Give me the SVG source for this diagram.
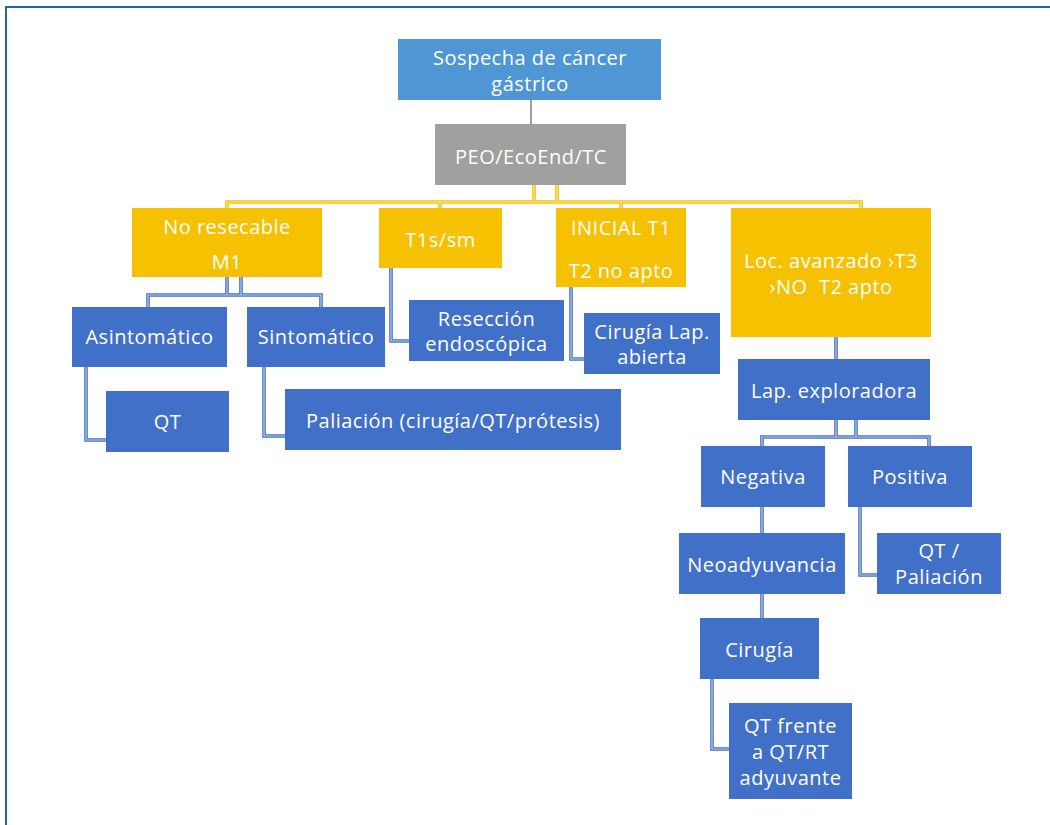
<svg xmlns="http://www.w3.org/2000/svg" width="1050" height="825" viewBox="0 0 1050 825">
<style>
.t{font-family:"Open Sans","Liberation Sans",sans-serif;font-size:20px;letter-spacing:0.5px;fill:#ffffff;text-anchor:middle}
.b{fill:#4170c8}
.y{fill:#f6c100}
.co{fill:none;stroke-linejoin:miter}
.bo{stroke:#4472c4;stroke-width:3.6}
.bi{stroke:#b9cbee;stroke-width:1.2}
.yo{stroke:#f5c000;stroke-width:3.6}
.yi{stroke:#fbe7a6;stroke-width:1.2}
</style>
<rect x="0" y="0" width="1050" height="825" fill="#ffffff"/>
<rect x="6" y="7" width="1060" height="840" fill="none" stroke="#2466ab" stroke-width="2"/>

<g id="connectors">
  <line x1="531" y1="100" x2="531" y2="124" stroke="#9e9e9e" stroke-width="2"/>
  <path class="co yo" d="M534 185V202M557 185V202M227 210V202H861V210M440 202V208M621 202V208"/>
  <path class="co yi" d="M534 185V202M557 185V202M227 210V202H861V210M440 202V208M621 202V208"/>
  <path class="co bo" d="M227 277V295M241 277V295M148 307V295H321V307M86 367V440H106M264 367V436H285M391 268V341H409M571 287V359H584M836 337V359M836 420V437M856 420V437M762 446V437H929V446M762 507V533M860 507V575H877M762 594V618M712 679V749H729"/>
  <path class="co bi" d="M227 277V295M241 277V295M148 307V295H321V307M86 367V440H106M264 367V436H285M391 268V341H409M571 287V359H584M836 337V359M836 420V437M856 420V437M762 446V437H929V446M762 507V533M860 507V575H877M762 594V618M712 679V749H729"/>
</g>

<g id="n-sospecha"><rect x="398" y="39" width="263" height="61" fill="#4f96d4"/><text class="t" x="530" y="65">Sospecha de cáncer</text><text class="t" x="530" y="91">gástrico</text></g>
<g id="n-peo"><rect x="435" y="124" width="191" height="61" fill="#a0a09e"/><text class="t" x="531" y="164">PEO/EcoEnd/TC</text></g>

<g id="n-noresecable"><rect class="y" x="132" y="208" width="190" height="69"/><text class="t" x="227" y="234">No resecable</text><text class="t" x="227" y="269">M1</text></g>
<g id="n-t1s"><rect class="y" x="379" y="208" width="123" height="60"/><text class="t" x="440.5" y="247">T1s/sm</text></g>
<g id="n-inicial"><rect class="y" x="556" y="208" width="130" height="79"/><text class="t" x="621" y="235">INICIAL T1</text><text class="t" x="621" y="278">T2 no apto</text></g>
<g id="n-locav"><rect class="y" x="731" y="208" width="200" height="129"/><text class="t" x="831" y="268">Loc. avanzado ›T3</text><text class="t" x="831" y="294" xml:space="preserve">›NO  T2 apto</text></g>

<g id="n-asint"><rect class="b" x="72" y="307" width="155" height="60"/><text class="t" x="149.5" y="344">Asintomático</text></g>
<g id="n-sint"><rect class="b" x="247" y="307" width="138" height="60"/><text class="t" x="316" y="344">Sintomático</text></g>
<g id="n-reseccion"><rect class="b" x="409" y="300" width="155" height="61"/><text class="t" x="486.5" y="326">Resección</text><text class="t" x="486.5" y="351">endoscópica</text></g>
<g id="n-cirlap"><rect class="b" x="584" y="313" width="136" height="61"/><text class="t" x="652" y="339">Cirugía Lap.</text><text class="t" x="652" y="364">abierta</text></g>
<g id="n-qt"><rect class="b" x="106" y="391" width="123" height="61"/><text class="t" x="167.5" y="429">QT</text></g>
<g id="n-paliacion"><rect class="b" x="285" y="389" width="336" height="61"/><text class="t" x="453" y="428">Paliación (cirugía/QT/prótesis)</text></g>

<g id="n-lapexp"><rect class="b" x="738" y="359" width="192" height="61"/><text class="t" x="834" y="398">Lap. exploradora</text></g>
<g id="n-negativa"><rect class="b" x="701" y="446" width="124" height="61"/><text class="t" x="763" y="484">Negativa</text></g>
<g id="n-positiva"><rect class="b" x="848" y="446" width="124" height="61"/><text class="t" x="910" y="484">Positiva</text></g>
<g id="n-neoady"><rect class="b" x="679" y="533" width="166" height="61"/><text class="t" x="762" y="572">Neoadyuvancia</text></g>
<g id="n-qtpal"><rect class="b" x="877" y="533" width="124" height="61"/><text class="t" x="939" y="558">QT /</text><text class="t" x="939" y="584">Paliación</text></g>
<g id="n-cirugia"><rect class="b" x="700" y="618" width="119" height="61"/><text class="t" x="759.5" y="657">Cirugía</text></g>
<g id="n-qtfrente"><rect class="b" x="729" y="703" width="123" height="96"/><text class="t" x="790.5" y="733">QT frente</text><text class="t" x="790.5" y="759">a QT/RT</text><text class="t" x="790.5" y="785">adyuvante</text></g>
</svg>
